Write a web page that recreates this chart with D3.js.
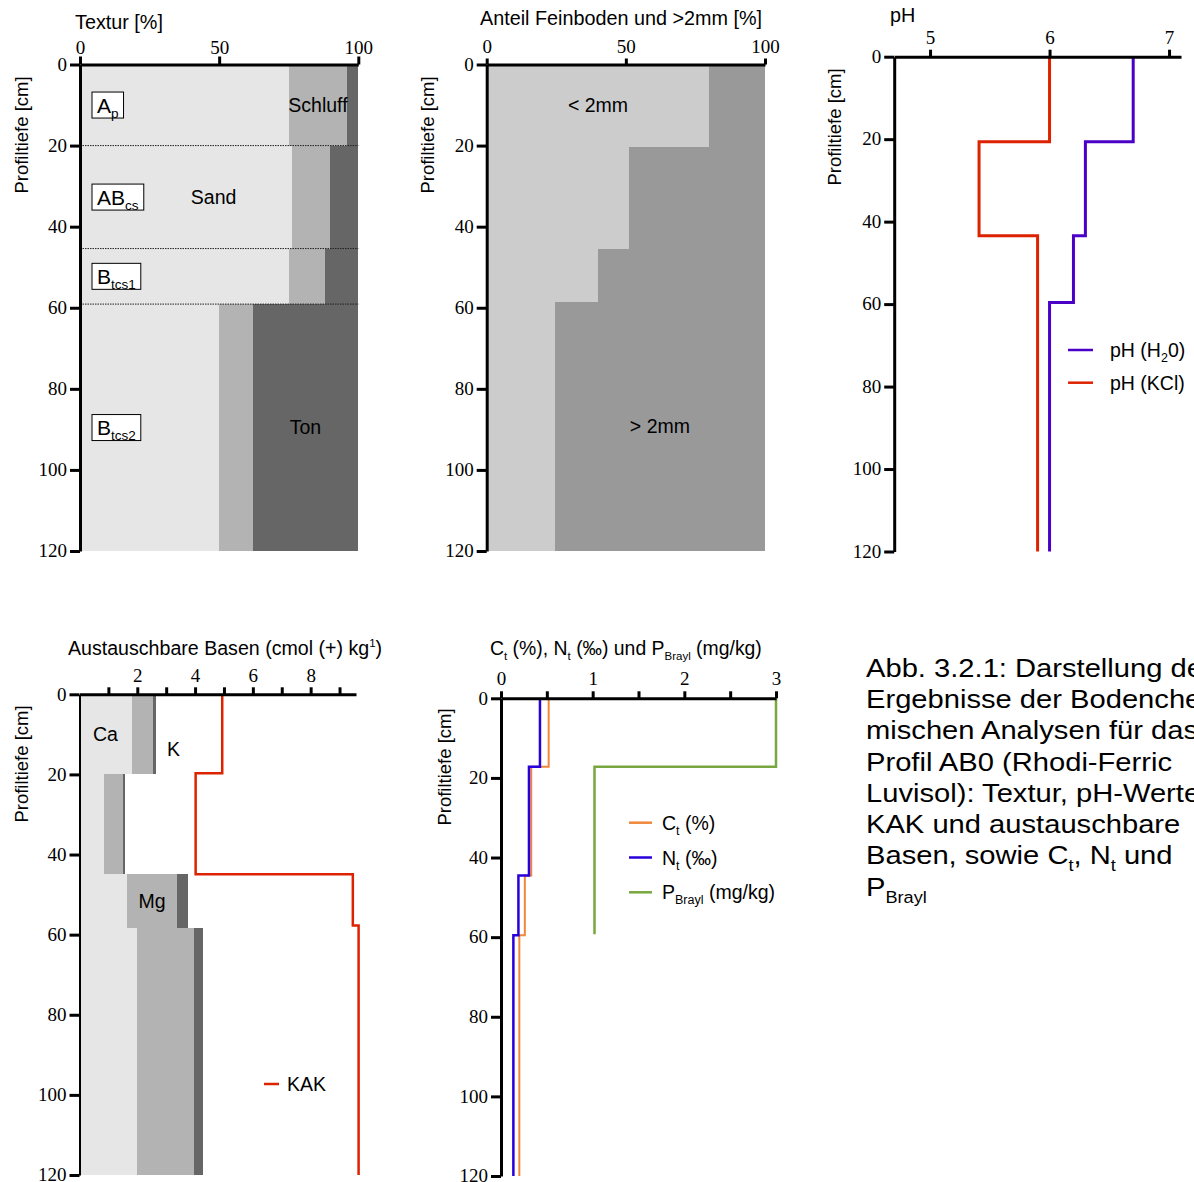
<!DOCTYPE html>
<html>
<head>
<meta charset="utf-8">
<script src="https://cdn.jsdelivr.net/npm/d3@7"></script>
<style>
  body { margin: 0; background: #fff; }
  svg { display: block; }
</style>
</head>
<body>
<svg id="chart"></svg>
<script>
// ---- data (depths in cm) ----
const texturDepth = [0, 20, 45.4, 59.1, 120];
const horizonName = ["A", "AB", "B", "B"];
const horizonSub = ["p", "cs", "tcs1", "tcs2"];
const sand = [75, 76, 75, 50];
const schluff = [21, 14, 13, 12];
const ton = [4, 10, 12, 38];

const skelettDepth = [0, 20.3, 45.4, 58.6, 120];
const feinboden = [80, 51, 40, 24.5];
const skelett = [20, 49, 60, 75.5];

const phDepth = [0, 20.6, 43.4, 59.6, 120];
const phH2O = [6.7, 6.3, 6.2, 6.0];
const phKCl = [6.0, 5.41, 5.9, 5.9];

const basenDepth = [0, 19.8, 44.8, 58.4, 120];
const ca = [1.8, 0.84, 1.66, 2.0];
const mg = [0.75, 0.65, 1.7, 1.98];
const k = [0.1, 0.1, 0.4, 0.3];
const kakDepth = [0, 19.7, 44.9, 57.7, 120];
const kak = [4.94, 4.02, 9.46, 9.66];

const cnDepth = [0, 17.2, 44.5, 59.5, 120];
const ct = [0.52, 0.33, 0.26, 0.2];
const nt = [0.425, 0.305, 0.19, 0.135];
const pDepth = [0, 17.2, 59.3];
const pBray = [3.0, 1.02];

const depthTicks = [0, 20, 40, 60, 80, 100, 120];

// ---- setup ----
const serif = "'Times New Roman','Liberation Serif',serif";
const sans = "Arial,'Liberation Sans',sans-serif";
const svg = d3.select("#chart").attr("width", 1194).attr("height", 1182);

const sub = (t, size, off) => ({ t: t, size: size, off: off });

// text with sub / superscript parts
const richText = (g, x, y, parts, size, anchor) => {
  const t = g.append("text")
    .attr("x", x).attr("y", y)
    .attr("font-family", sans).attr("font-size", size).attr("fill", "#000")
    .attr("text-anchor", anchor || "start");
  let off = 0;
  parts.forEach((p) => {
    const s = typeof p === "string" ? { t: p, off: 0 } : p;
    const ts = t.append("tspan").text(s.t).attr("font-size", s.size || size);
    if ((s.off || 0) !== off) {
      ts.attr("dy", (s.off || 0) - off);
      off = s.off || 0;
    }
  });
  return t;
};

const yLabel = (cx, cy) => {
  svg.append("text")
    .attr("transform", "translate(" + cx + "," + cy + ") rotate(-90)")
    .attr("text-anchor", "middle").attr("dy", "0.35em")
    .attr("font-family", sans).attr("font-size", 18.5)
    .text("Profiltiefe [cm]");
};

const stepPoints = (depth, values) => {
  const pts = [];
  values.forEach((v, i) => {
    pts.push([v, depth[i]]);
    pts.push([v, depth[i + 1]]);
  });
  return pts;
};

const drawStep = (x, y, depth, values, color, width) => {
  const line = d3.line().x((p) => x(p[0])).y((p) => y(p[1]));
  svg.append("path")
    .attr("d", line(stepPoints(depth, values)))
    .attr("fill", "none").attr("stroke", color)
    .attr("stroke-width", width).attr("stroke-linejoin", "miter");
};

const drawAxes = (x, y, opt) => {
  const gx = svg.append("g")
    .attr("transform", "translate(0," + y(0) + ")")
    .call(d3.axisTop(x).tickValues(opt.xTicks).tickSize(opt.xTickSize || 7)
      .tickPadding(opt.xPad || 5).tickSizeOuter(0)
      .tickFormat((d) => (opt.xLabels.includes(d) ? d : "")));
  const gy = svg.append("g")
    .attr("transform", "translate(" + x.range()[0] + ",0)")
    .call(d3.axisLeft(y).tickValues(depthTicks).tickSize(10)
      .tickPadding(3).tickSizeOuter(0));
  [gx, gy].forEach((g) => {
    g.select(".domain").attr("stroke-width", 3);
    g.selectAll(".tick line").attr("stroke-width", 3);
    g.selectAll("text").attr("font-family", serif).attr("font-size", 19).attr("fill", "#000");
  });
  gy.selectAll("text").attr("dy", "0.3em");
  if (opt.yWidth) gy.select(".domain").attr("stroke-width", opt.yWidth);
};

const drawStack = (x, y, depth, keys, cols, colors) => {
  const rows = depth.slice(0, -1).map((d, i) => {
    const r = { top: d, bottom: depth[i + 1] };
    keys.forEach((key, j) => { r[key] = cols[j][i]; });
    return r;
  });
  const stack = d3.stack().keys(keys)(rows);
  const color = d3.scaleOrdinal().domain(keys).range(colors);
  svg.append("g").selectAll("g").data(stack).join("g")
    .attr("fill", (s) => color(s.key))
    .selectAll("rect").data((s) => s).join("rect")
    .attr("shape-rendering", "crispEdges")
    .attr("x", (d) => x(d[0]))
    .attr("width", (d) => x(d[1]) - x(d[0]))
    .attr("y", (d) => y(d.data.top))
    .attr("height", (d) => y(d.data.bottom) - y(d.data.top));
  return stack;
};

const label = (x, y, txt) => {
  svg.append("text").attr("x", x).attr("y", y).attr("dy", "0.35em")
    .attr("text-anchor", "middle").attr("font-family", sans)
    .attr("font-size", 19.5).text(txt);
};

const mid = (depth, i) => (depth[i] + depth[i + 1]) / 2;

// ---- panel 1: Textur ----
const x1 = d3.scaleLinear().domain([0, 100]).range([80, 358.3]);
const y1 = d3.scaleLinear().domain([0, 120]).range([64.5, 551]);
const tStack = drawStack(x1, y1, texturDepth, ["Sand", "Schluff", "Ton"],
  [sand, schluff, ton], ["#e6e6e6", "#b3b3b3", "#666666"]);

texturDepth.slice(1, -1).forEach((d) => {
  svg.append("line")
    .attr("x1", x1(0)).attr("x2", x1(100)).attr("y1", y1(d)).attr("y2", y1(d))
    .attr("stroke", "#222").attr("stroke-width", 1).attr("stroke-dasharray", "1.5,1");
});

horizonName.forEach((name, i) => {
  const g = svg.append("g");
  const t = richText(g, 97, y1(mid(texturDepth, i)) + 7.5, [name, sub(horizonSub[i], 13.5, 5)], 21);
  const bb = t.node().getBBox();
  g.insert("rect", "text")
    .attr("x", 92).attr("y", y1(mid(texturDepth, i)) - 13)
    .attr("width", bb.width + 10).attr("height", 26)
    .attr("fill", "#fff").attr("stroke", "#000").attr("stroke-width", 1);
});

label(x1((tStack[1][0][0] + tStack[1][0][1]) / 2), y1(mid(texturDepth, 0)), "Schluff");
label(x1(48), y1(mid(texturDepth, 1)), "Sand");
label(x1((tStack[2][3][0] + tStack[2][3][1]) / 2), y1(mid(texturDepth, 3)), "Ton");

drawAxes(x1, y1, { xTicks: [0, 50, 100], xLabels: [0, 50, 100], xTickSize: 8, xPad: 3 });
richText(svg, 75, 29, ["Textur [%]"], 19.8);
yLabel(22, 135);

// ---- panel 2: Feinboden / Skelett ----
const x2 = d3.scaleLinear().domain([0, 100]).range([486.7, 765]);
const y2 = d3.scaleLinear().domain([0, 120]).range([64.5, 551]);
const sStack = drawStack(x2, y2, skelettDepth, ["fein", "skelett"],
  [feinboden, skelett], ["#cccccc", "#999999"]);
label(x2(feinboden[0] / 2), y2(mid(skelettDepth, 0)), "< 2mm");
label(x2((sStack[1][3][0] + sStack[1][3][1]) / 2), y2(mid(skelettDepth, 3)), "> 2mm");
drawAxes(x2, y2, { xTicks: [0, 50, 100], xLabels: [0, 50, 100], xTickSize: 6, xPad: 6 });
richText(svg, 480, 25, ["Anteil Feinboden und >2mm [%]"], 19.8);
yLabel(428, 135);

// ---- panel 3: pH ----
const x3 = d3.scaleLinear().domain([4.7, 7.1]).range([894.2, 1181]);
const y3 = d3.scaleLinear().domain([0, 120]).range([56.7, 551.5]);
drawStep(x3, y3, phDepth, phKCl, "#dd2200", 3);
drawStep(x3, y3, phDepth, phH2O, "#4b00c8", 3);
drawAxes(x3, y3, { xTicks: [5, 6, 7], xLabels: [5, 6, 7], xTickSize: 7, xPad: 6 });
richText(svg, 890, 22, ["pH"], 19.8);
yLabel(835, 127);

const phLegend = [
  { color: "#4b00c8", parts: ["pH (H", sub("2", 12.5, 5), "0)"] },
  { color: "#dd2200", parts: ["pH (KCl)"] },
];
phLegend.forEach((d, i) => {
  const ly = 350 + i * 32.7;
  svg.append("line").attr("x1", 1068).attr("x2", 1093).attr("y1", ly).attr("y2", ly)
    .attr("stroke", d.color).attr("stroke-width", 2.5);
  richText(svg, 1110, ly + 7, d.parts, 19.5);
});

// ---- panel 4: Austauschbare Basen ----
const x4 = d3.scaleLinear().domain([0, 9.57]).range([79.5, 356]);
const y4 = d3.scaleLinear().domain([0, 120]).range([694.3, 1175]);
const bStack = drawStack(x4, y4, basenDepth, ["Ca", "Mg", "K"],
  [ca, mg, k], ["#e6e6e6", "#b3b3b3", "#666666"]);
drawStep(x4, y4, kakDepth, kak, "#dd2200", 2.5);
label(x4(ca[0] / 2), y4(mid(basenDepth, 0)), "Ca");
label(x4(3.25), y4(13.6), "K");
label(x4((bStack[1][2][0] + bStack[1][2][1]) / 2), y4(mid(basenDepth, 2)), "Mg");
drawAxes(x4, y4, { xTicks: [1, 2, 3, 4, 5, 6, 7, 8, 9], xLabels: [2, 4, 6, 8], xTickSize: 7, xPad: 5, yWidth: 2 });
richText(svg, 68, 655, ["Austauschbare Basen (cmol (+) kg", sub("1", 11.5, -8), ")"], 19.6);
yLabel(22, 764);

svg.append("line").attr("x1", 264).attr("x2", 279).attr("y1", 1084).attr("y2", 1084)
  .attr("stroke", "#dd2200").attr("stroke-width", 2.5);
richText(svg, 287, 1091, ["KAK"], 19.5);

// ---- panel 5: Ct, Nt, PBrayl ----
const x5 = d3.scaleLinear().domain([0, 3]).range([501, 776]);
const y5 = d3.scaleLinear().domain([0, 120]).range([698.3, 1176]);
drawStep(x5, y5, cnDepth, ct, "#f0883c", 2);
drawStep(x5, y5, cnDepth, nt, "#2800dc", 2.5);
drawStep(x5, y5, pDepth, pBray, "#78a640", 2.5);
drawAxes(x5, y5, { xTicks: [0, 0.5, 1, 1.5, 2, 2.5, 3], xLabels: [0, 1, 2, 3], xTickSize: 7, xPad: 6 });
richText(svg, 490, 655, ["C", sub("t", 11.5, 5), " (%), N", sub("t", 11.5, 5), " (‰) und P",
  sub("Brayl", 11.5, 5), " (mg/kg)"], 19.4);
yLabel(445, 767);

const cnLegend = [
  { color: "#f0883c", parts: ["C", sub("t", 12.5, 5), " (%)"] },
  { color: "#2800dc", parts: ["N", sub("t", 12.5, 5), " (‰)"] },
  { color: "#78a640", parts: ["P", sub("Brayl", 12.5, 5), " (mg/kg)"] },
];
cnLegend.forEach((d, i) => {
  const ly = 822.7 + i * 34.8;
  svg.append("line").attr("x1", 629).attr("x2", 652).attr("y1", ly).attr("y2", ly)
    .attr("stroke", d.color).attr("stroke-width", 2.5);
  richText(svg, 662, ly + 7, d.parts, 19.5);
});

// ---- caption ----
const captionLines = [
  ["Abb. 3.2.1: Darstellung der"],
  ["Ergebnisse der Bodenche-"],
  ["mischen Analysen für das"],
  ["Profil AB0 (Rhodi-Ferric"],
  ["Luvisol): Textur, pH-Werte,"],
  ["KAK und austauschbare"],
  ["Basen, sowie C", sub("t", 16.5, 7), ", N", sub("t", 16.5, 7), " und"],
  ["P", sub("Brayl", 16.5, 7)],
];
const caption = svg.append("g").attr("transform", "translate(866,0) scale(1.1,1)");
captionLines.forEach((parts, i) => {
  richText(caption, 0, 676.7 + i * 31.3, parts, 26.5);
});
</script>
</body>
</html>
